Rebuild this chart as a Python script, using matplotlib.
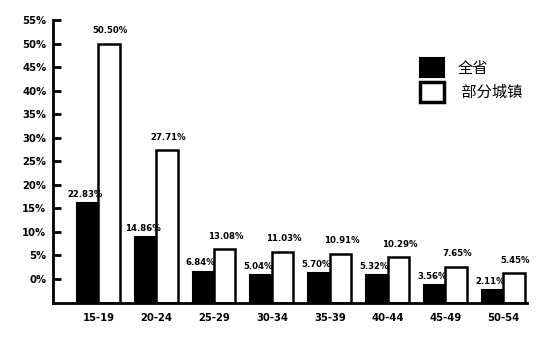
import matplotlib
matplotlib.use("Agg")
import matplotlib.pyplot as plt
from matplotlib.patches import Patch
import numpy as np

plt.rcParams["font.family"] = ["DejaVu Sans", "Noto Sans CJK SC"]

age_groups = ["15-19", "20-24", "25-29", "30-34", "35-39", "40-44", "45-49", "50-54"]
# bar heights as drawn in the picture (axis %), labels as printed
province_heights = [16.1, 8.9, 1.6, 0.9, 1.2, 0.9, -1.3, -2.3]
town_heights = [50.0, 27.4, 6.4, 5.8, 5.4, 4.7, 2.6, 1.3]
province_labels = ["22.83%", "14.86%", "6.84%", "5.04%", "5.70%", "5.32%", "3.56%", "2.11%"]
town_labels = ["50.50%", "27.71%", "13.08%", "11.03%", "10.91%", "10.29%", "7.65%", "5.45%"]
y_ticks = list(range(0, 60, 5))

BASE = -5.1

fig = plt.figure(figsize=(5.6, 3.44), dpi=100)
ax = fig.add_axes([0.095, 0.119, 0.846, 0.823])

x = np.arange(len(age_groups))
w = 0.37
prov = np.array(province_heights) - BASE
town = np.array(town_heights) - BASE
ax.bar(x - w / 2, prov, w, bottom=BASE, color="black", edgecolor="black", linewidth=1.5)
ax.bar(x + w / 2, town, w, bottom=BASE, color="white", edgecolor="black", linewidth=1.8)

label_font = dict(fontsize=6.8, fontweight="bold", fontstretch="condensed")
for xi, h, lab in zip(x, province_heights, province_labels):
    ax.annotate(lab, (xi - w / 2, h), xytext=(-2, 3), textcoords="offset points",
                ha="center", va="bottom", **label_font)
for xi, h, lab in zip(x, town_heights, town_labels):
    ax.annotate(lab, (xi + w / 2, h), xytext=(1, 6), textcoords="offset points",
                ha="center", va="bottom", **label_font)

ax.set_xlim(-0.78, 7.41)
ax.set_ylim(BASE, 55)
ax.set_yticks(y_ticks)
ax.set_yticklabels([f"{t}%" for t in y_ticks], fontsize=8, fontweight="bold", fontstretch="condensed")
ax.set_xticks(x)
ax.set_xticklabels(age_groups, fontsize=8, fontweight="bold", fontstretch="condensed")
ax.tick_params(axis="y", direction="in", length=6, width=2, pad=5)
ax.tick_params(axis="x", length=0, pad=7)
ax.spines["top"].set_visible(False)
ax.spines["right"].set_visible(False)
ax.spines["left"].set_linewidth(2)
ax.spines["bottom"].set_linewidth(2)
ax.spines["left"].set_bounds(BASE, 55)

handles = [
    Patch(facecolor="black", edgecolor="black", linewidth=1.5, label="全省"),
    Patch(facecolor="white", edgecolor="black", linewidth=2.5, label=" 部分城镇"),
]
ax.legend(handles=handles, loc="upper left", bbox_to_anchor=(0.745, 0.915),
          frameon=False, handlelength=1.6, handleheight=1.6,
          handletextpad=0.9, labelspacing=0.3,
          prop={"family": ["Noto Sans CJK SC"], "size": 11})

fig.savefig("out.png", dpi=100)
